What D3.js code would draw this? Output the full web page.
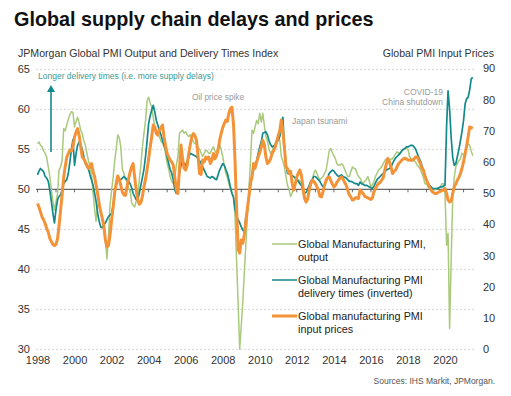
<!DOCTYPE html>
<html>
<head>
<meta charset="utf-8">
<script src="https://cdn.jsdelivr.net/npm/d3@7"></script>
<style>
  body { margin: 0; background: #fff; }
  svg { display: block; font-family: "Liberation Sans", Arial, sans-serif; }
</style>
</head>
<body>
<div id="vis"></div>
<script>
// monthly readings, Jan 1998 .. Jul 2021 (one row per year)
const startYear = 1998;

// Global Manufacturing PMI, output (left axis)
const output = [
  55.7, 55.9, 55.5, 55.3, 54.8, 54.5, 54.0, 52.8, 51.6, 50.0, 48.5, 47.4,
  48.5, 49.5, 52.4, 52.8, 53.6, 57.6, 57.3, 58.0, 58.8, 59.3, 59.7, 59.6,
  57.8, 58.5, 59.0, 58.3, 57.4, 57.0, 56.1, 55.5, 54.5, 53.6, 52.8, 51.8,
  49.5, 47.5, 46.0, 48.0, 48.5, 47.0, 46.5, 45.5, 43.5, 41.3, 44.0, 48.0,
  49.9, 51.5, 53.5, 55.0, 56.8, 56.5, 55.3, 52.5, 52.0, 51.2, 51.0, 50.0,
  49.9, 48.3, 48.0, 47.8, 48.5, 49.0, 51.2, 53.0, 55.3, 57.0, 58.6, 61.0,
  61.5, 60.8, 60.3, 59.0, 57.8, 57.5, 57.0, 56.6, 56.0, 55.8, 55.3, 54.5,
  53.2, 52.5, 51.6, 51.0, 50.7, 51.5, 53.0, 54.1, 57.0, 57.2, 57.4, 57.0,
  57.2, 56.8, 56.6, 56.8, 56.4, 56.0, 55.7, 55.7, 55.3, 55.0, 54.5, 54.1,
  54.5, 54.9, 54.8, 54.5, 54.5, 55.0, 55.3, 54.8, 54.5, 55.2, 55.7, 55.0,
  54.1, 53.0, 52.0, 51.5, 50.7, 50.0, 49.5, 49.0, 46.5, 41.0, 35.5, 30.0,
  33.0, 36.0, 39.5, 43.0, 46.5, 50.0, 53.5, 57.4, 57.0, 57.8, 58.6, 58.2,
  59.5, 58.4, 59.5, 58.0, 56.6, 56.0, 55.0, 54.5, 54.8, 55.3, 55.8, 56.2,
  56.8, 56.0, 54.1, 53.5, 52.8, 51.6, 50.5, 50.0, 49.1, 49.5, 50.3, 50.7,
  51.0, 51.2, 51.0, 50.5, 49.5, 48.7, 48.3, 48.8, 49.5, 50.5, 51.2, 52.0,
  52.4, 52.0, 51.5, 51.2, 51.4, 51.6, 52.0, 52.4, 53.6, 54.8, 55.1, 54.6,
  54.2, 53.8, 53.2, 53.0, 53.0, 53.2, 53.0, 52.5, 52.0, 51.6, 51.6, 52.2,
  52.8, 52.6, 52.6, 52.0, 51.6, 51.4, 51.0, 50.7, 51.0, 51.2, 51.6, 51.0,
  50.3, 50.6, 51.0, 51.6, 52.0, 52.4, 52.6, 52.8, 53.2, 53.6, 53.8, 53.8,
  53.6, 53.8, 53.8, 54.1, 54.4, 54.7, 54.5, 54.6, 54.8, 55.0, 55.1, 55.1,
  55.0, 54.1, 53.8, 53.6, 53.6, 53.4, 53.0, 52.8, 52.5, 52.0, 51.5, 50.7,
  50.7, 50.3, 50.1, 50.0, 49.9, 49.9, 50.0, 50.1, 50.1, 50.3, 50.7, 50.7,
  49.5, 43.0, 44.5, 32.6, 41.0, 48.8, 51.5, 52.8, 53.2, 53.6, 53.8, 54.5,
  54.3, 54.5, 55.3, 55.7, 55.5, 54.8, 54.2
];

// Global Manufacturing PMI delivery times, inverted (left axis)
const delivery = [
  51.8, 52.3, 52.6, 52.4, 52.2, 51.6, 51.4, 51.0, 49.9, 48.5, 47.0, 45.8,
  47.5, 48.7, 49.1, 49.3, 49.9, 50.7, 51.0, 51.2, 52.0, 53.4, 55.0, 56.2,
  53.0, 54.5, 55.5, 55.9, 55.7, 55.0, 54.1, 53.2, 52.8, 52.6, 51.8, 51.2,
  50.5, 49.5, 48.5, 47.0, 46.0, 45.3, 45.2, 45.6, 45.8, 46.2, 46.6, 46.8,
  47.0, 48.0, 49.5, 50.5, 51.2, 51.2, 51.2, 51.4, 51.6, 51.4, 51.2, 51.0,
  50.7, 50.2, 49.5, 49.1, 48.7, 48.7, 49.5, 50.5, 51.5, 52.5, 54.1, 56.0,
  58.2, 59.2, 59.9, 60.5, 59.7, 58.6, 58.0, 57.4, 56.8, 56.1, 55.5, 54.9,
  54.0, 53.2, 52.5, 52.0, 51.2, 49.9, 49.5, 50.5, 52.0, 53.0, 53.6, 53.2,
  53.0, 53.6, 54.0, 54.5, 54.4, 54.3, 54.2, 54.1, 53.8, 53.6, 53.2, 52.8,
  52.4, 52.0, 51.6, 51.5, 51.4, 51.6, 51.5, 51.3, 51.2, 51.8, 52.4, 52.8,
  53.2, 53.0, 52.5, 52.0, 51.2, 50.3, 49.5, 49.0, 47.5, 46.6, 46.2, 45.8,
  45.3, 44.9, 44.7, 46.5, 47.4, 49.0, 50.5, 51.8, 52.4, 53.0, 53.6, 54.5,
  55.3, 56.0, 57.0, 57.1, 57.2, 56.8, 56.1, 55.6, 55.3, 55.4, 55.5, 55.8,
  56.2, 56.6, 57.8, 59.0, 55.3, 53.2, 52.0, 52.0, 51.8, 51.7, 51.6, 51.4,
  51.2, 51.0, 50.7, 50.5, 50.0, 49.5, 49.6, 50.0, 50.5, 51.0, 51.2, 51.6,
  51.6, 51.4, 51.2, 51.0, 50.6, 50.3, 50.5, 51.0, 51.4, 52.0, 52.2, 52.4,
  52.3, 52.0, 51.8, 51.6, 51.7, 51.8, 51.6, 51.5, 51.4, 51.2, 51.0, 51.0,
  50.9, 50.8, 50.7, 50.7, 50.5, 50.9, 50.7, 50.6, 50.5, 50.5, 50.4, 50.3,
  50.2, 50.1, 50.4, 50.8, 51.2, 51.4, 51.6, 51.8, 52.0, 52.2, 52.4, 52.5,
  52.6, 52.8, 53.2, 53.6, 53.9, 54.1, 54.3, 54.5, 54.8, 55.0, 55.1, 55.3,
  55.3, 55.4, 55.5, 55.5, 55.3, 55.0, 54.5, 54.0, 53.6, 53.0, 52.4, 51.8,
  51.2, 50.8, 50.5, 50.3, 50.1, 50.1, 50.1, 50.1, 50.2, 50.3, 50.3, 50.4,
  50.5, 57.8, 62.3, 60.0, 56.5, 54.0, 53.0, 53.2, 54.1, 55.0, 56.1, 57.2,
  58.6, 60.7, 61.3, 61.5, 62.4, 63.8, 64.0
];

// Global manufacturing PMI input prices (right axis)
const prices = [
  46.7, 45.5, 44.0, 42.4, 41.5, 40.3, 38.7, 37.5, 35.5, 34.5, 33.6, 33.2,
  33.6, 35.5, 39.5, 44.5, 49.5, 55.0, 58.5, 61.5, 62.7, 63.8, 63.5, 64.8,
  68.0, 69.5, 70.7, 68.6, 65.0, 61.6, 61.0, 60.0, 59.0, 57.9, 58.5, 59.5,
  57.0, 55.2, 52.5, 49.9, 46.5, 44.0, 42.0, 39.5, 35.0, 32.8, 33.2, 36.5,
  41.4, 45.5, 49.9, 53.0, 55.5, 54.5, 52.5, 50.4, 49.5, 49.3, 52.0, 54.5,
  56.8, 58.5, 59.5, 55.2, 51.0, 47.8, 46.5, 47.0, 49.0, 52.0, 54.5, 57.4,
  61.0, 64.8, 68.0, 71.8, 71.2, 69.1, 68.6, 70.2, 71.0, 71.8, 68.0, 65.0,
  62.7, 61.5, 60.6, 60.0, 59.0, 55.0, 51.0, 49.9, 58.0, 65.4, 61.0, 58.0,
  57.4, 59.0, 62.7, 65.5, 68.0, 69.1, 68.5, 67.0, 62.0, 56.3, 56.0, 60.6,
  60.0, 61.6, 61.0, 61.6, 59.5, 60.5, 62.7, 61.0, 62.0, 63.8, 67.0, 69.1,
  71.0, 72.3, 73.4, 73.0, 75.5, 77.1, 77.6, 72.0, 60.0, 45.0, 32.0, 30.8,
  35.0, 34.0, 36.5, 41.0, 45.0, 49.0, 53.1, 55.2, 59.5, 58.0, 60.0, 61.6,
  63.0, 64.8, 67.0, 65.5, 61.6, 59.5, 60.0, 61.0, 62.7, 63.5, 64.8, 66.5,
  68.5, 70.2, 73.4, 70.0, 64.8, 58.4, 57.9, 56.3, 57.0, 53.1, 51.0, 53.0,
  55.2, 56.5, 57.4, 55.7, 52.0, 48.5, 47.2, 48.0, 51.0, 53.0, 54.2, 53.8,
  53.1, 52.0, 51.0, 49.0, 48.8, 50.5, 52.5, 54.2, 55.0, 55.2, 54.0, 53.0,
  52.0, 52.5, 53.5, 54.2, 54.8, 55.2, 54.5, 53.5, 52.5, 51.0, 49.5, 48.8,
  47.8, 48.0, 48.5, 48.5, 48.3, 51.0, 50.5, 49.9, 49.0, 48.8, 48.5, 48.3,
  48.0, 48.5, 50.5, 51.5, 52.5, 53.1, 53.5, 54.2, 55.0, 57.4, 59.5, 61.1,
  60.0, 58.4, 56.3, 57.0, 57.4, 58.5, 59.5, 60.0, 60.6, 61.0, 61.1, 61.0,
  60.6, 60.6, 60.5, 60.6, 61.0, 61.6, 61.6, 60.6, 59.5, 58.0, 57.4, 55.5,
  54.2, 53.0, 52.0, 51.0, 50.4, 50.0, 49.9, 50.0, 50.4, 50.6, 50.8, 51.0,
  51.5, 49.9, 47.8, 47.2, 47.5, 49.9, 52.0, 53.0, 54.2, 55.0, 56.3, 58.0,
  60.0, 62.7, 65.0, 68.0, 71.2, 71.0, 70.7
];

const leftTicks = [30, 35, 40, 45, 50, 55, 60, 65];
const rightTicks = [0, 10, 20, 30, 40, 50, 60, 70, 80, 90];
const yearTicks = [1998, 2000, 2002, 2004, 2006, 2008, 2010, 2012, 2014, 2016, 2018, 2020];

const seriesNames = [
  ["Global Manufacturing PMI,", "output"],
  ["Global Manufacturing PMI", "delivery times (inverted)"],
  ["Global manufacturing PMI", "input prices"]
];
const colors = ["#a9c97c", "#14898a", "#f39237"];

const W = 511, H = 396;
const plotLeft = 36, plotRight = 474, plotTop = 69.3, plotBottom = 349.3;

const svg = d3.select("#vis").append("svg")
  .attr("width", W)
  .attr("height", H)
  .attr("viewBox", [0, 0, W, H].join(" "));

svg.append("rect").attr("width", W).attr("height", H).attr("fill", "#fff");

const x = d3.scaleTime()
  .domain([new Date(1998, 0, 1), new Date(2020, 0, 1)])
  .range([37.5, 445]);
const yL = d3.scaleLinear().domain([30, 65]).range([plotBottom, plotTop]);
const yR = d3.scaleLinear().domain([0, 90]).range([plotBottom, plotTop - 1]);

const date = i => new Date(startYear, i, 1);

// titles
svg.append("text")
  .attr("x", 14).attr("y", 26)
  .attr("font-size", 19.8).attr("font-weight", "bold").attr("fill", "#111")
  .text("Global supply chain delays and prices");

svg.append("text")
  .attr("x", 18).attr("y", 57)
  .attr("font-size", 10.6).attr("fill", "#333")
  .text("JPMorgan Global PMI Output and Delivery Times Index");

svg.append("text")
  .attr("x", 494).attr("y", 57)
  .attr("text-anchor", "end")
  .attr("font-size", 10.6).attr("fill", "#333")
  .text("Global PMI Input Prices");

// gridlines
svg.append("g")
  .selectAll("line")
  .data(leftTicks.filter(d => d !== 50))
  .join("line")
  .attr("x1", plotLeft).attr("x2", plotRight)
  .attr("y1", d => yL(d)).attr("y2", d => yL(d))
  .attr("stroke", "#d4d4d4")
  .attr("stroke-dasharray", "2,2");

// left axis labels
const leftAxis = svg.append("g")
  .attr("transform", `translate(${plotLeft - 6},0)`)
  .call(d3.axisLeft(yL).tickValues(leftTicks).tickSize(0).tickPadding(0));
leftAxis.select(".domain").remove();
leftAxis.selectAll("text").attr("font-size", 11).attr("fill", "#333").attr("font-family", null);

// right axis labels
const rightAxis = svg.append("g")
  .attr("transform", `translate(${plotRight + 9},0)`)
  .call(d3.axisRight(yR).tickValues(rightTicks).tickSize(0).tickPadding(0));
rightAxis.select(".domain").remove();
rightAxis.selectAll("text").attr("font-size", 11).attr("fill", "#333").attr("font-family", null);

// bottom labels
const bottomAxis = svg.append("g")
  .attr("transform", `translate(0,${plotBottom + 3})`)
  .call(d3.axisBottom(x)
    .tickValues(yearTicks.map(yr => new Date(yr, 0, 1)))
    .tickFormat(d3.timeFormat("%Y"))
    .tickSize(0).tickPadding(4));
bottomAxis.select(".domain").remove();
bottomAxis.selectAll("text").attr("font-size", 11).attr("fill", "#333").attr("font-family", null);

// the 50 line with year ticks
svg.append("line")
  .attr("x1", plotLeft).attr("x2", plotRight)
  .attr("y1", yL(50)).attr("y2", yL(50))
  .attr("stroke", "#444").attr("stroke-width", 1);

svg.append("g")
  .selectAll("line")
  .data(d3.range(1998, 2022))
  .join("line")
  .attr("x1", d => x(new Date(d, 0, 1))).attr("x2", d => x(new Date(d, 0, 1)))
  .attr("y1", yL(50)).attr("y2", yL(50) + 3)
  .attr("stroke", "#444").attr("stroke-width", 0.8);

// series lines
const lineL = d3.line().x((d, i) => x(date(i))).y(d => yL(d));
const lineR = d3.line().x((d, i) => x(date(i))).y(d => yR(d));

svg.append("path").datum(output)
  .attr("fill", "none").attr("stroke", colors[0]).attr("stroke-width", 1.5)
  .attr("stroke-linejoin", "round").attr("d", lineL);

svg.append("path").datum(delivery)
  .attr("fill", "none").attr("stroke", colors[1]).attr("stroke-width", 1.7)
  .attr("stroke-linejoin", "round").attr("d", lineL);

svg.append("path").datum(prices)
  .attr("fill", "none").attr("stroke", colors[2]).attr("stroke-width", 3)
  .attr("stroke-linejoin", "round").attr("d", lineR);

// annotations
svg.append("text")
  .attr("x", 38).attr("y", 79)
  .attr("font-size", 8.5).attr("fill", "#3a9a96")
  .text("Longer delivery times  (i.e. more supply delays)");

svg.append("line")
  .attr("x1", 51).attr("x2", 51)
  .attr("y1", 152).attr("y2", 91)
  .attr("stroke", "#14898a").attr("stroke-width", 1.6);
svg.append("path")
  .attr("d", "M47,92 L51,85 L55,92 Z")
  .attr("fill", "#14898a");

const noteColor = "#9a9a9a";
svg.append("text").attr("x", 192).attr("y", 100)
  .attr("font-size", 8.3).attr("fill", noteColor).text("Oil price spike");
svg.append("text").attr("x", 292).attr("y", 124)
  .attr("font-size", 8.5).attr("fill", noteColor).text("Japan tsunami");
svg.append("text").attr("x", 443).attr("y", 95).attr("text-anchor", "end")
  .attr("font-size", 8.5).attr("fill", noteColor).text("COVID-19");
svg.append("text").attr("x", 443).attr("y", 104.5).attr("text-anchor", "end")
  .attr("font-size", 8.5).attr("fill", noteColor).text("China shutdown");

// legend
const legendY = [244, 280, 316];
const legend = svg.append("g")
  .selectAll("g")
  .data(seriesNames)
  .join("g")
  .attr("transform", (d, i) => `translate(272,${legendY[i]})`);

legend.append("line")
  .attr("x1", 0).attr("x2", 25)
  .attr("stroke", (d, i) => colors[i])
  .attr("stroke-width", (d, i) => i === 2 ? 3 : 1.5);

legend.append("text")
  .attr("x", 26).attr("y", 4)
  .attr("font-size", 10.8).attr("fill", "#222")
  .selectAll("tspan")
  .data(d => d)
  .join("tspan")
  .attr("x", 26)
  .attr("dy", (d, i) => i === 0 ? 0 : 12.5)
  .text(d => d);

// source
svg.append("text")
  .attr("x", 495).attr("y", 384)
  .attr("text-anchor", "end")
  .attr("font-size", 8.5).attr("fill", "#555")
  .text("Sources: IHS Markit, JPMorgan.");
</script>
</body>
</html>
